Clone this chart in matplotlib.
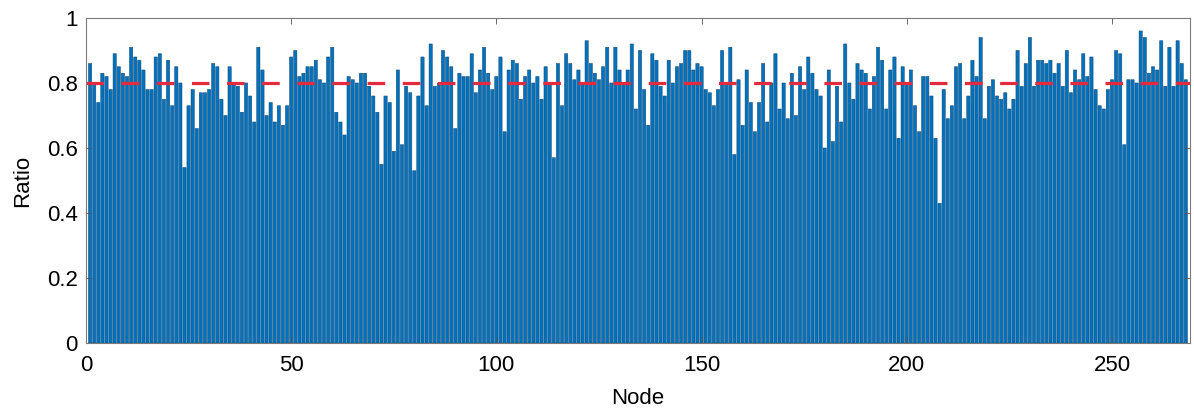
import numpy as np
import matplotlib
matplotlib.use("Agg")
import matplotlib.pyplot as plt

plt.rcParams['font.family'] = ['Liberation Sans', 'DejaVu Sans']

# ratio per node (nodes 1..268)
ratio = [
    0.86, 0.80, 0.74, 0.83, 0.82, 0.78, 0.89, 0.85, 0.83, 0.82,
    0.91, 0.88, 0.87, 0.84, 0.78, 0.78, 0.88, 0.89, 0.75, 0.87,
    0.73, 0.85, 0.80, 0.54, 0.73, 0.78, 0.66, 0.77, 0.77, 0.78,
    0.86, 0.85, 0.75, 0.70, 0.85, 0.80, 0.79, 0.71, 0.80, 0.76,
    0.68, 0.91, 0.84, 0.70, 0.74, 0.68, 0.73, 0.67, 0.73, 0.88,
    0.90, 0.82, 0.83, 0.85, 0.85, 0.87, 0.81, 0.80, 0.88, 0.91,
    0.71, 0.68, 0.64, 0.82, 0.81, 0.80, 0.83, 0.83, 0.79, 0.76,
    0.71, 0.55, 0.76, 0.74, 0.59, 0.84, 0.61, 0.79, 0.77, 0.53,
    0.76, 0.88, 0.73, 0.92, 0.79, 0.80, 0.90, 0.88, 0.85, 0.66,
    0.83, 0.82, 0.82, 0.89, 0.77, 0.84, 0.91, 0.83, 0.78, 0.82,
    0.88, 0.65, 0.84, 0.87, 0.86, 0.75, 0.82, 0.84, 0.80, 0.82,
    0.75, 0.85, 0.80, 0.57, 0.86, 0.73, 0.89, 0.86, 0.81, 0.84,
    0.80, 0.93, 0.86, 0.83, 0.81, 0.85, 0.91, 0.80, 0.91, 0.84,
    0.80, 0.84, 0.92, 0.72, 0.90, 0.78, 0.67, 0.89, 0.87, 0.79,
    0.76, 0.87, 0.80, 0.85, 0.86, 0.90, 0.90, 0.84, 0.86, 0.85,
    0.78, 0.77, 0.73, 0.78, 0.90, 0.80, 0.91, 0.58, 0.81, 0.67,
    0.84, 0.74, 0.65, 0.74, 0.86, 0.68, 0.80, 0.89, 0.72, 0.80,
    0.69, 0.83, 0.70, 0.85, 0.78, 0.88, 0.83, 0.78, 0.76, 0.60,
    0.84, 0.62, 0.79, 0.68, 0.92, 0.80, 0.75, 0.86, 0.84, 0.83,
    0.72, 0.82, 0.91, 0.87, 0.72, 0.84, 0.88, 0.63, 0.85, 0.80,
    0.84, 0.73, 0.65, 0.82, 0.82, 0.76, 0.63, 0.43, 0.78, 0.69,
    0.73, 0.85, 0.86, 0.69, 0.76, 0.87, 0.82, 0.94, 0.69, 0.79,
    0.81, 0.76, 0.75, 0.77, 0.72, 0.75, 0.90, 0.79, 0.86, 0.94,
    0.79, 0.87, 0.87, 0.86, 0.87, 0.83, 0.86, 0.79, 0.90, 0.77,
    0.84, 0.81, 0.89, 0.82, 0.88, 0.78, 0.73, 0.72, 0.78, 0.81,
    0.90, 0.89, 0.61, 0.81, 0.81, 0.80, 0.96, 0.94, 0.83, 0.85,
    0.84, 0.93, 0.79, 0.91, 0.79, 0.93, 0.86, 0.81,
]
threshold = 0.8
nodes = np.arange(1, len(ratio) + 1)

fig = plt.figure(figsize=(11.94, 4.13), dpi=100)
ax = fig.add_axes([0.072, 0.1695, 0.9246, 0.787])

bars = ax.bar(nodes, ratio, width=0.8, color='#0072BD', edgecolor='#134670',
              linewidth=0.35)
for b in bars:
    b.set_snap(False)
ax.plot([0, len(ratio) + 1], [threshold, threshold], color='#e42a3c', lw=2.3,
        dashes=(5.5, 5.5))

ax.set_xlim(0, len(ratio) + 1)
ax.set_ylim(0, 1)
ax.set_xticks([0, 50, 100, 150, 200, 250])
ax.set_yticks([0, 0.2, 0.4, 0.6, 0.8, 1])
ax.set_yticklabels(['0', '0.2', '0.4', '0.6', '0.8', '1'])
ax.tick_params(direction='in', top=True, right=True, length=4, width=0.6,
               color='#555555', labelsize=16)
ax.tick_params(axis='x', pad=9)
ax.tick_params(axis='y', pad=6)
for s in ax.spines.values():
    s.set_color('#7a7a7a')
    s.set_linewidth(0.8)

ax.set_xlabel('Node', fontsize=16, labelpad=8)
ax.set_ylabel('Ratio', fontsize=16, labelpad=10)

fig.savefig('out.png', dpi=100)
